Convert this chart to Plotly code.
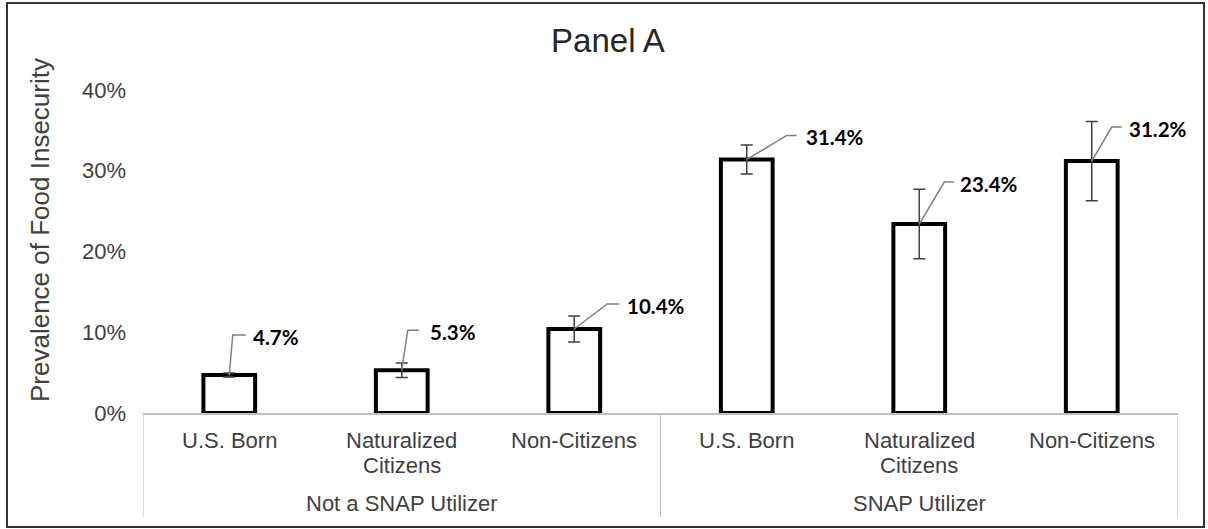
import plotly.graph_objects as go

# ---------------- data ----------------
groups = ["Not a SNAP Utilizer", "SNAP Utilizer"]
categories = ["U.S. Born", "Naturalized<br>Citizens", "Non-Citizens"]
prevalence = [4.7, 5.3, 10.4, 31.4, 23.4, 31.2]      # %
ci_halfwidth = [0.25, 0.9, 1.6, 1.8, 4.3, 4.9]       # % (error bar half-width)
y_ticks = [0, 10, 20, 30, 40]
title_text = "Panel A"
y_title = "Prevalence of Food Insecurity"

# ---------------- styling / layout ----------------
W, H = 1208, 529
ML, MR, MT, MB = 143, 30, 70, 116
PW, PH = W - ML - MR, H - MT - MB
PX_PER_PCT = 8.075
Y_MAX = PH / PX_PER_PCT

FONT = "Liberation Sans, Arial, sans-serif"
LABEL_FONT = "Lato, Carlito, Calibri, sans-serif"
TXT = "#404040"
GRID = "#BFBFBF"

# leader-line offsets in pixels: (mid dx, mid dy up, end dx, text dx)
leader_px = [(3.5, 40, 16.5, 21.5), (6, 40, 17, 26), (33, 25, 45, 51),
             (40, 24, 50, 57), (25, 42, 35, 39), (20, 34, 30, 35)]


def px_x(px):
    return (px - ML) / PW


def px_y(py):
    return (H - MB - py) / PH


n_cat = len(categories)
x_pos = list(range(len(groups) * n_cat))

fig = go.Figure()

fig.add_trace(go.Bar(
    x=x_pos, y=prevalence, width=0.3,
    marker=dict(color="white", line=dict(color="black", width=4)),
    hoverinfo="skip", showlegend=False,
))

fig.add_trace(go.Scatter(
    x=x_pos, y=prevalence, mode="markers",
    marker=dict(size=0.1, color="rgba(0,0,0,0)"),
    error_y=dict(type="data", array=ci_halfwidth, visible=True,
                 color=TXT, thickness=1.5, width=6),
    hoverinfo="skip", showlegend=False,
))

shapes = []
annotations = []

# leader lines + value labels
for i, (v, lp) in enumerate(zip(prevalence, leader_px)):
    mdx, mdy, edx, tdx = lp
    shapes.append(dict(
        type="path", xref="x", yref="y", xsizemode="pixel", ysizemode="pixel",
        xanchor=i, yanchor=v,
        path=f"M0,0 L{mdx},{mdy} L{edx},{mdy}",
        line=dict(color="#808080", width=1.5), layer="above",
    ))
    annotations.append(dict(
        x=i, y=v, xref="x", yref="y", text=f"<b>{v:.1f}%</b>",
        showarrow=False, xanchor="left", yanchor="middle",
        xshift=tdx, yshift=mdy - 2,
        font=dict(family=LABEL_FONT, size=20.5, color="black"),
    ))

# category tick labels (each line placed separately)
for g in range(len(groups)):
    for c, cat in enumerate(categories):
        xi = g * n_cat + c
        for k, line in enumerate(cat.split("<br>")):
            annotations.append(dict(
                x=xi, y=px_y(440 + 25 * k), xref="x", yref="paper",
                text=line, showarrow=False, xanchor="center", yanchor="middle",
                font=dict(family=FONT, size=22, color=TXT),
            ))
    annotations.append(dict(
        x=g * n_cat + (n_cat - 1) / 2, y=px_y(503), xref="x", yref="paper",
        text=groups[g], showarrow=False, xanchor="center", yanchor="middle",
        font=dict(family=FONT, size=22, color=TXT),
    ))

# group dividers
for g in range(len(groups) + 1):
    xd = g * n_cat - 0.5
    shapes.append(dict(type="line", xref="x", yref="paper",
                       x0=xd, x1=xd, y0=0, y1=px_y(517),
                       line=dict(color=GRID, width=1.2)))

# y-axis title
annotations.append(dict(
    x=px_x(40), y=px_y(230), xref="paper", yref="paper", text=y_title,
    textangle=-90, showarrow=False, xanchor="center", yanchor="middle",
    font=dict(family=FONT, size=26, color=TXT),
))

# outer border
shapes.append(dict(type="rect", xref="paper", yref="paper",
                   x0=px_x(7), x1=px_x(1204), y0=px_y(527), y1=px_y(3),
                   line=dict(color="#333333", width=2), layer="below"))

fig.update_layout(
    width=W, height=H, autosize=False,
    margin=dict(l=ML, r=MR, t=MT, b=MB),
    paper_bgcolor="white", plot_bgcolor="white",
    title=dict(text=title_text, x=608 / W, y=1 - 40 / H,
               xanchor="center", yanchor="middle", xref="container", yref="container",
               font=dict(family=FONT, size=33, color="#262626")),
    xaxis=dict(range=[-0.5, len(x_pos) - 0.5], showticklabels=False, ticks="",
               showgrid=False, zeroline=False, showline=True,
               linecolor=GRID, linewidth=1.5, layer="below traces"),
    yaxis=dict(range=[0, Y_MAX], tickvals=y_ticks,
               ticktext=[f"{t}%" for t in y_ticks], ticks="",
               ticklabelstandoff=16, showgrid=False, zeroline=False,
               showline=False, tickfont=dict(family=FONT, size=22, color=TXT)),
    shapes=shapes, annotations=annotations, showlegend=False,
)

fig.write_html("out.html")
